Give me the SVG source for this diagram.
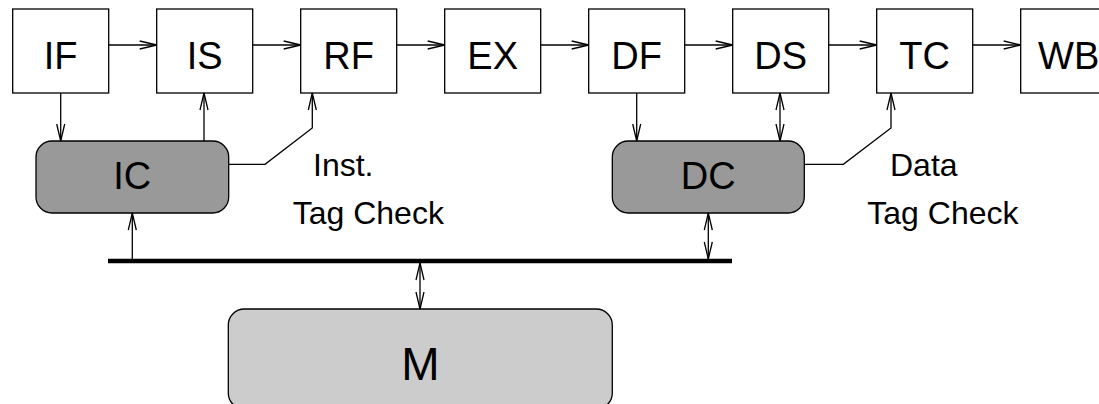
<svg xmlns="http://www.w3.org/2000/svg" width="1099" height="404" viewBox="0 0 1099 404">
  <style>
    .stage rect { fill: #ffffff; stroke: #000000; stroke-width: 1.3; }
    .cache rect { fill: #999999; stroke: #000000; stroke-width: 1.3; }
    .mem rect { fill: #cccccc; stroke: #000000; stroke-width: 1.3; }
    text { font-family: "Liberation Sans", Arial, sans-serif; fill: #000000; }
    .big { font-size: 38px; text-anchor: middle; }
    .huge { font-size: 46px; text-anchor: middle; }
    .note { font-size: 32px; }
    .wire { fill: none; stroke: #000000; stroke-width: 1.3; }
    .one { marker-end: url(#head); }
    .two { marker-start: url(#head); marker-end: url(#head); }
    .bus { stroke: #000000; stroke-width: 4.5; }
  </style>
  <defs>
    <marker id="head" markerUnits="userSpaceOnUse" markerWidth="20" markerHeight="12"
            viewBox="0 0 20 12" refX="18" refY="6" orient="auto-start-reverse">
      <path d="M1,2 L18,6 L1,10" fill="none" stroke="#000000" stroke-width="1.3"/>
    </marker>
  </defs>

  <!-- pipeline stages -->
  <g id="IF" class="stage"><rect x="12.7" y="9" width="96" height="84"/><text class="big" x="60.7" y="69">IF</text></g>
  <g id="IS" class="stage"><rect x="156.7" y="9" width="96" height="84"/><text class="big" x="204.7" y="69">IS</text></g>
  <g id="RF" class="stage"><rect x="300.7" y="9" width="96" height="84"/><text class="big" x="348.7" y="69">RF</text></g>
  <g id="EX" class="stage"><rect x="444.7" y="9" width="96" height="84"/><text class="big" x="492.7" y="69">EX</text></g>
  <g id="DF" class="stage"><rect x="588.7" y="9" width="96" height="84"/><text class="big" x="636.7" y="69">DF</text></g>
  <g id="DS" class="stage"><rect x="732.7" y="9" width="96" height="84"/><text class="big" x="780.7" y="69">DS</text></g>
  <g id="TC" class="stage"><rect x="876.7" y="9" width="96" height="84"/><text class="big" x="924.7" y="69">TC</text></g>
  <g id="WB" class="stage"><rect x="1020.7" y="9" width="96" height="84"/><text class="big" x="1068.7" y="69">WB</text></g>

  <!-- caches -->
  <g id="IC" class="cache"><rect x="36" y="141" width="192.7" height="72" rx="16" ry="16"/><text class="big" x="132.3" y="189">IC</text></g>
  <g id="DC" class="cache"><rect x="612.3" y="141" width="192" height="72" rx="16" ry="16"/><text class="big" x="708.3" y="189">DC</text></g>

  <!-- memory -->
  <g id="M" class="mem"><rect x="228.3" y="309" width="384" height="100" rx="16" ry="16"/><text class="huge" x="420.3" y="380">M</text></g>

  <!-- tag check labels -->
  <g id="inst-tag-check"><text class="note" x="313" y="175.5">Inst.</text><text class="note" x="292.7" y="224.3">Tag Check</text></g>
  <g id="data-tag-check"><text class="note" x="890" y="175.5">Data</text><text class="note" x="867.3" y="224.3">Tag Check</text></g>

  <!-- connectors -->
  <g id="connectors">
    <line class="bus" x1="108" y1="261" x2="732" y2="261"/>
    <line class="wire one" x1="108.7" y1="45" x2="156.7" y2="45"/>
    <line class="wire one" x1="252.7" y1="45" x2="300.7" y2="45"/>
    <line class="wire one" x1="396.7" y1="45" x2="444.7" y2="45"/>
    <line class="wire one" x1="540.7" y1="45" x2="588.7" y2="45"/>
    <line class="wire one" x1="684.7" y1="45" x2="732.7" y2="45"/>
    <line class="wire one" x1="828.7" y1="45" x2="876.7" y2="45"/>
    <line class="wire one" x1="972.7" y1="45" x2="1020.7" y2="45"/>
    <line class="wire one" x1="60.7" y1="93" x2="60.7" y2="141"/>
    <line class="wire one" x1="204" y1="141" x2="204" y2="93"/>
    <path class="wire one" d="M228.7,164.3 H265 L312.3,128 V93"/>
    <line class="wire one" x1="132.3" y1="259" x2="132.3" y2="213"/>
    <line class="wire one" x1="636.7" y1="93" x2="636.7" y2="141"/>
    <line class="wire two" x1="780" y1="93" x2="780" y2="141"/>
    <path class="wire one" d="M804.3,164.3 H843.3 L891,128 V93"/>
    <line class="wire two" x1="708.3" y1="213" x2="708.3" y2="259"/>
    <line class="wire two" x1="420" y1="263" x2="420" y2="309"/>
  </g>
</svg>
